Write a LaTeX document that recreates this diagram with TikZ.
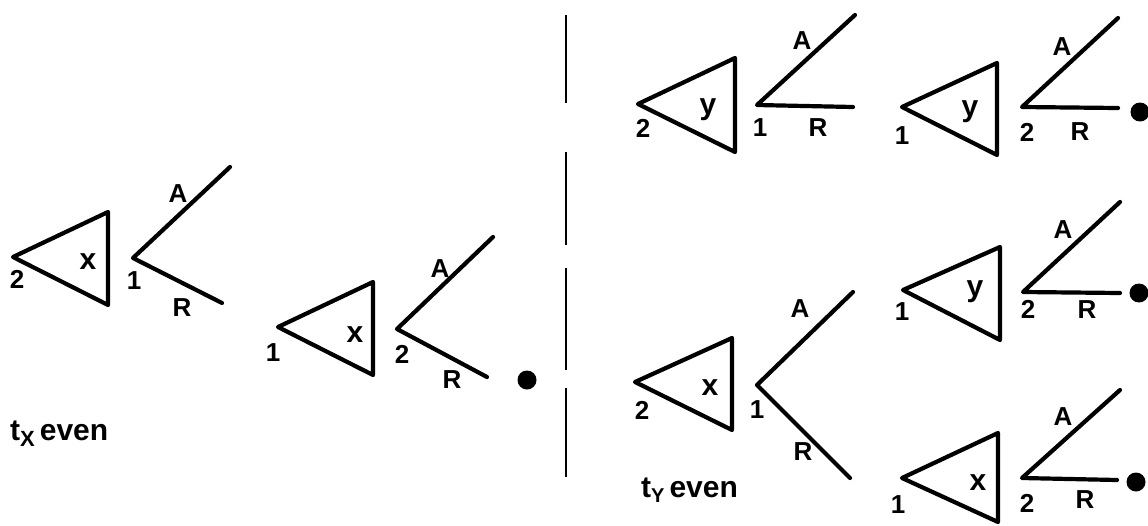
\documentclass[tikz,border=0pt]{standalone}
\usepackage{fontspec}
\setmainfont{Liberation Sans}
\begin{document}
\begin{tikzpicture}[x=1pt,y=-1pt,
  edge/.style={line width=4.2pt, line cap=round, line join=round},
  lbl/.style={font=\fontsize{26}{26}\selectfont\bfseries, inner sep=0pt},
  var/.style={font=\fontsize{30}{30}\selectfont\bfseries, inner sep=0pt},
  note/.style={font=\fontsize{30}{30}\selectfont\bfseries, inner sep=0pt, anchor=base west},
  leaf/.style={circle, fill=black, minimum size=19pt, inner sep=0pt},
  sep/.style={line width=2pt}]
\useasboundingbox (0,0) rectangle (1148,525);

% ---------- gadget 1 (left) ----------
\coordinate (g1a) at (13,257); \coordinate (g1b) at (108,212); \coordinate (g1c) at (108,305);
\coordinate (g1p) at (133,258); \coordinate (g1A) at (230,167); \coordinate (g1R) at (222,303);
\draw[edge] (g1a) -- (g1b) -- (g1c) -- cycle;
\draw[edge] (g1A) -- (g1p) -- (g1R);
\node[var] (g1v) at (88,262) {x};
\node[lbl] (g1n) at (17,279) {2};
\node[lbl] (g1m) at (134,281) {1};
\node[lbl] (g1la) at (178,194) {A};
\node[lbl] (g1lr) at (182,308) {R};

% ---------- gadget 2 ----------
\coordinate (g2a) at (278,327); \coordinate (g2b) at (373,282); \coordinate (g2c) at (373,375);
\coordinate (g2p) at (397,329); \coordinate (g2A) at (493,237); \coordinate (g2R) at (487,377);
\draw[edge] (g2a) -- (g2b) -- (g2c) -- cycle;
\draw[edge] (g2A) -- (g2p) -- (g2R);
\node[var] (g2v) at (355,335) {x};
\node[lbl] (g2n) at (273,353) {1};
\node[lbl] (g2m) at (402,354) {2};
\node[lbl] (g2la) at (440,269) {A};
\node[lbl] (g2lr) at (452,380) {R};
\node[leaf] (g2d) at (527,380) {};

% ---------- separator ----------
\coordinate (s1) at (566,15);  \coordinate (s2) at (566,103);
\coordinate (s3) at (566,152); \coordinate (s4) at (566,245);
\coordinate (s5) at (566,268); \coordinate (s6) at (566,370);
\coordinate (s7) at (566,388); \coordinate (s8) at (566,477);
\draw[sep] (s1) -- (s2);
\draw[sep] (s3) -- (s4);
\draw[sep] (s5) -- (s6);
\draw[sep] (s7) -- (s8);

% ---------- gadget 3 ----------
\coordinate (g3a) at (638,104); \coordinate (g3b) at (735,58); \coordinate (g3c) at (735,152);
\coordinate (g3p) at (757,105); \coordinate (g3A) at (855,15); \coordinate (g3R) at (853,107);
\draw[edge] (g3a) -- (g3b) -- (g3c) -- cycle;
\draw[edge] (g3A) -- (g3p) -- (g3R);
\node[var] (g3v) at (708,110) {y};
\node[lbl] (g3n) at (643,128) {2};
\node[lbl] (g3m) at (760,128) {1};
\node[lbl] (g3la) at (802,41) {A};
\node[lbl] (g3lr) at (818,128) {R};

% ---------- gadget 4 ----------
\coordinate (g4a) at (902,107); \coordinate (g4b) at (997,63); \coordinate (g4c) at (997,155);
\coordinate (g4p) at (1022,107); \coordinate (g4A) at (1118,18); \coordinate (g4R) at (1118,108);
\draw[edge] (g4a) -- (g4b) -- (g4c) -- cycle;
\draw[edge] (g4A) -- (g4p) -- (g4R);
\node[var] (g4v) at (970,112) {y};
\node[lbl] (g4n) at (902,136) {1};
\node[lbl] (g4m) at (1027,132) {2};
\node[lbl] (g4la) at (1062,47) {A};
\node[lbl] (g4lr) at (1080,132) {R};
\node[leaf] (g4d) at (1140,112) {};

% ---------- gadget 5 ----------
\coordinate (g5a) at (903,290); \coordinate (g5b) at (1000,247); \coordinate (g5c) at (1000,340);
\coordinate (g5p) at (1023,292); \coordinate (g5A) at (1120,202); \coordinate (g5R) at (1120,293);
\draw[edge] (g5a) -- (g5b) -- (g5c) -- cycle;
\draw[edge] (g5A) -- (g5p) -- (g5R);
\node[var] (g5v) at (975,292) {y};
\node[lbl] (g5n) at (902,312) {1};
\node[lbl] (g5m) at (1028,309) {2};
\node[lbl] (g5la) at (1063,230) {A};
\node[lbl] (g5lr) at (1087,310) {R};
\node[leaf] (g5d) at (1139,293) {};

% ---------- gadget 6 ----------
\coordinate (g6a) at (635,382); \coordinate (g6b) at (732,338); \coordinate (g6c) at (732,430);
\coordinate (g6p) at (757,385); \coordinate (g6A) at (853,292); \coordinate (g6R) at (850,478);
\draw[edge] (g6a) -- (g6b) -- (g6c) -- cycle;
\draw[edge] (g6A) -- (g6p) -- (g6R);
\node[var] (g6v) at (710,388) {x};
\node[lbl] (g6n) at (642,410) {2};
\node[lbl] (g6m) at (757,410) {1};
\node[lbl] (g6la) at (800,309) {A};
\node[lbl] (g6lr) at (803,452) {R};

% ---------- gadget 7 ----------
\coordinate (g7a) at (902,478); \coordinate (g7b) at (998,433); \coordinate (g7c) at (998,522);
\coordinate (g7p) at (1022,478); \coordinate (g7A) at (1120,390); \coordinate (g7R) at (1117,480);
\draw[edge] (g7a) -- (g7b) -- (g7c) -- cycle;
\draw[edge] (g7A) -- (g7p) -- (g7R);
\node[var] (g7v) at (978,483) {x};
\node[lbl] (g7n) at (898,505) {1};
\node[lbl] (g7m) at (1027,503) {2};
\node[lbl] (g7la) at (1063,417) {A};
\node[lbl] (g7lr) at (1085,500) {R};
\node[leaf] (g7d) at (1136,482) {};

% ---------- notes ----------
\node[note] (tx) at (10,440) {t\raisebox{-6pt}{\fontsize{22}{22}\selectfont X}\,even};
\node[note] (ty) at (641,497) {t\raisebox{-5pt}{\fontsize{20}{20}\selectfont Y}\,even};
\end{tikzpicture}
\end{document}
